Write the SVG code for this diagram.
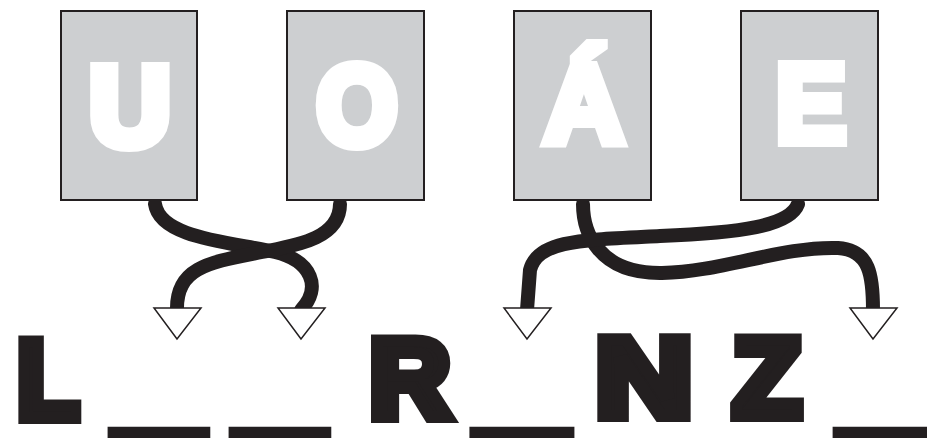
<svg xmlns="http://www.w3.org/2000/svg" width="927" height="438" viewBox="0 0 927 438">
<style>
.box{fill:#cdcfd1;stroke:#231f20;stroke-width:2}
.big{font-family:"Liberation Sans",Arial,sans-serif;font-weight:bold;font-size:112px;text-anchor:middle;stroke-width:12;stroke-linejoin:miter}
.w{fill:#ffffff;stroke:#ffffff}
.k{fill:#231f20;stroke:#231f20}
.us{font-family:"Liberation Sans",Arial,sans-serif;font-weight:bold;font-size:112px;fill:#231f20;stroke:#231f20;stroke-width:10;stroke-linejoin:miter}
.wire{fill:none;stroke:#231f20;stroke-width:14;stroke-linecap:round;stroke-linejoin:round}
.tri{fill:#ffffff;stroke:#231f20;stroke-width:1.5;stroke-linejoin:miter}
</style>
<rect width="927" height="438" fill="#ffffff"/>
<g id="connectors">
<path class="wire" d="M155,204 C160,238 230,242 275,252 C312,261 322,288 301,310"/>
<path class="wire" d="M340,204 C340,240 292,246 262,252 C212,262 176,266 177,310"/>
<path class="wire" d="M583,204 C583,232 598,274 662,273 C722,272 782,246 838,248 C870,250 873,276 873,310"/>
<path class="wire" d="M798,204 C790,226 740,233 660,236 C580,240 538,240 530,270 L527,310"/>
<polygon class="tri" points="154,308 201,308 177,339"/>
<polygon class="tri" points="278,308 325,308 301,339"/>
<polygon class="tri" points="504,308 551,308 527,339"/>
<polygon class="tri" points="850,308 897,308 873,339"/>
</g>
<g id="node-U"><rect class="box" x="61" y="11" width="136" height="189"/><text class="big w" x="130" y="145">U</text></g>
<g id="node-O"><rect class="box" x="287" y="11" width="137" height="189"/><text class="big w" x="357" y="144" textLength="80" lengthAdjust="spacingAndGlyphs">O</text></g>
<g id="node-A"><rect class="box" x="514" y="11" width="137" height="189"/><text class="big w" x="584" y="143" style="stroke-width:10">Á</text></g>
<g id="node-E"><rect class="box" x="741" y="11" width="137" height="189"/><text class="big w" x="811" y="142" textLength="71" lengthAdjust="spacingAndGlyphs" style="stroke-width:10">E</text></g>
<g id="word">
<text class="big k" x="48" y="418" textLength="62" lengthAdjust="spacingAndGlyphs">L</text>
<text class="us" x="116" y="422" textLength="86" lengthAdjust="spacingAndGlyphs">_</text>
<text class="us" x="237" y="422" textLength="86" lengthAdjust="spacingAndGlyphs">_</text>
<text class="big k" x="410" y="417">R</text>
<text class="us" x="478" y="422" textLength="88" lengthAdjust="spacingAndGlyphs">_</text>
<text class="big k" x="644" y="416" textLength="97" lengthAdjust="spacingAndGlyphs">N</text>
<text class="big k" x="767" y="416">Z</text>
<text class="us" x="842" y="422" textLength="96" lengthAdjust="spacingAndGlyphs">_</text>
</g>
</svg>
